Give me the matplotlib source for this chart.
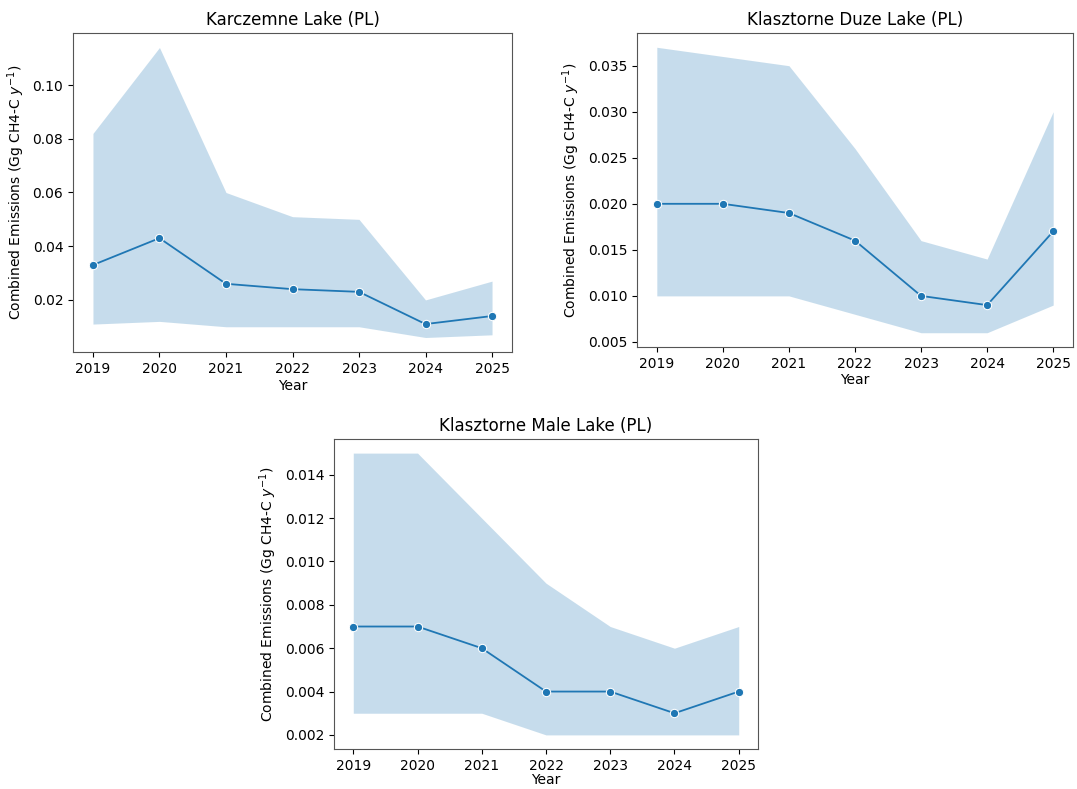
import matplotlib
matplotlib.use("Agg")
import matplotlib.pyplot as plt

years = [2019, 2020, 2021, 2022, 2023, 2024, 2025]

karcz_mean = [0.033, 0.043, 0.026, 0.024, 0.023, 0.011, 0.014]
karcz_upper = [0.082, 0.114, 0.060, 0.051, 0.050, 0.020, 0.027]
karcz_lower = [0.011, 0.012, 0.010, 0.010, 0.010, 0.006, 0.007]

duze_mean = [0.020, 0.020, 0.019, 0.016, 0.010, 0.009, 0.017]
duze_upper = [0.037, 0.036, 0.035, 0.026, 0.016, 0.014, 0.030]
duze_lower = [0.010, 0.010, 0.010, 0.008, 0.006, 0.006, 0.009]

male_mean = [0.007, 0.007, 0.006, 0.004, 0.004, 0.003, 0.004]
male_upper = [0.015, 0.015, 0.012, 0.009, 0.007, 0.006, 0.007]
male_lower = [0.003, 0.003, 0.003, 0.002, 0.002, 0.002, 0.002]

titles = ["Karczemne Lake (PL)", "Klasztorne Duze Lake (PL)", "Klasztorne Male Lake (PL)"]

W, H = 1077, 789
fig = plt.figure(figsize=(W / 100, H / 100), dpi=100)

def box(l, t, r, b):
    return [l / W, 1 - b / H, (r - l) / W, (b - t) / H]

axes_boxes = [box(73, 33, 512, 352), box(637, 33, 1073, 347), box(334, 439, 758, 749)]
series = [(karcz_mean, karcz_lower, karcz_upper),
          (duze_mean, duze_lower, duze_upper),
          (male_mean, male_lower, male_upper)]

color = "#1f77b4"
for i, (bx, (m, lo, hi), title) in enumerate(zip(axes_boxes, series, titles)):
    ax = fig.add_axes(bx)
    ax.fill_between(years, lo, hi, color=color, alpha=0.25, linewidth=0)
    ax.plot(years, m, color=color, linewidth=1.3, marker="o", markersize=6,
            markeredgecolor="white", markeredgewidth=0.75)
    ax.set_title(title, fontsize=12)
    ax.set_xlabel("Year", fontsize=10, labelpad=0 if i == 2 else 2)
    ax.set_ylabel(r"Combined Emissions (Gg CH4-C $y^{-1}$)", fontsize=10)
    ax.set_xticks(years)
    ax.tick_params(labelsize=10)
    for s in ax.spines.values():
        s.set_color("#555555")

fig.savefig("out.png", dpi=100)
